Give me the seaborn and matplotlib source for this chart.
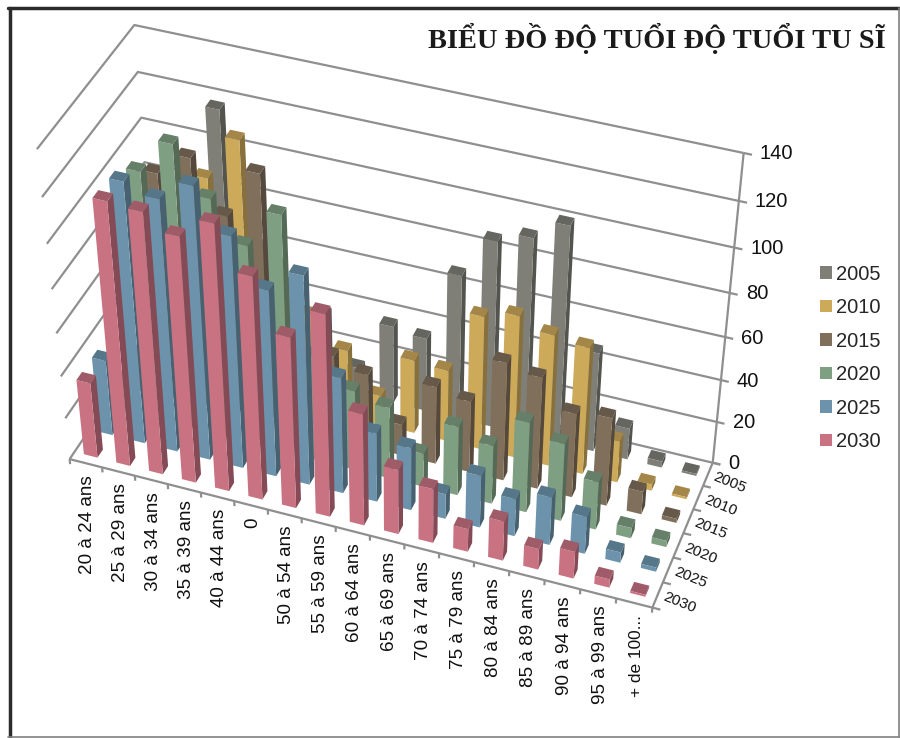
import numpy as np
import seaborn as sns
import matplotlib
matplotlib.use('Agg')
import matplotlib.pyplot as plt
from matplotlib.lines import Line2D
from matplotlib.patches import Patch
from mpl_toolkits.mplot3d.art3d import Line3DCollection

ages = ['20 à 24 ans', '25 à 29 ans', '30 à 34 ans', '35 à 39 ans', '40 à 44 ans', '0',
        '50 à 54 ans', '55 à 59 ans', '60 à 64 ans', '65 à 69 ans', '70 à 74 ans', '75 à 79 ans',
        '80 à 84 ans', '85 à 89 ans', '90 à 94 ans', '95 à 99 ans', '+ de 100...']
years = ['2005', '2010', '2015', '2020', '2025', '2030']
z_ticks = [0, 20, 40, 60, 80, 100, 120, 140]

v2005 = [8, 40, 118, 60, 45, 35, 13, 37, 35, 68, 87, 92, 101, 47, 15, 3, 1]
v2010 = [10, 45, 97, 117, 65, 45, 32, 14, 35, 34, 63, 67, 62, 60, 20, 3, 1]
v2015 = [18, 105, 115, 93, 115, 45, 40, 35, 15, 37, 34, 56, 53, 40, 42, 11, 2]
v2020 = [15, 115, 130, 110, 93, 110, 50, 38, 34, 16, 33, 28, 43, 37, 23, 5, 3]
v2025 = [36, 120, 116, 125, 107, 87, 97, 55, 33, 30, 12, 25, 18, 23, 18, 5, 2]
v2030 = [36, 121, 120, 113, 122, 103, 80, 94, 53, 31, 26, 11, 19, 10, 13, 4, 1]
series = [v2005, v2010, v2015, v2020, v2025, v2030]

colors = sns.color_palette(['#7f7f78', '#cda95a', '#7f6f5b', '#7f9f83', '#6c93ab', '#c87282'])

sns.set_theme(style='white')
plt.rcParams['font.family'] = ['Liberation Sans', 'DejaVu Sans']

W, H_PX = 900, 738
n_x, n_y, z_max = len(ages), len(years), 140

# box corners and gridline ends as seen in the picture, the camera is fitted on them
world_pts = [(0, 0, 0), (0, 0, 140), (0, 0, 120), (0, 0, 100), (0, 0, 80), (0, 0, 60), (0, 0, 40), (0, 0, 20),
             (17, 0, 0), (17, 6, 0), (17, 6, 20), (17, 6, 60), (17, 6, 100), (17, 6, 140),
             (0, 6, 140), (0, 6, 120), (0, 6, 100)]
pixel_pts = [(70, 460), (37, 149), (42, 197), (47, 244), (52, 289), (56, 333), (61, 376), (65, 418),
             (652, 608), (713, 462), (716, 422), (726, 337), (735, 248), (743, 153),
             (134, 25), (138, 72), (141, 118)]


def fit_camera():
    rows = []
    for (x, y, z), (u, v) in zip(world_pts, pixel_pts):
        p = [x / n_x, y / n_y, z / z_max, 1]
        rows.append(p + [0, 0, 0, 0] + [-u * c for c in p])
        rows.append([0, 0, 0, 0] + p + [-v * c for c in p])
    cam = np.linalg.svd(np.array(rows))[2][-1].reshape(3, 4)
    cam = cam @ np.diag([1 / n_x, 1 / n_y, 1 / z_max, 1])
    if cam[2] @ np.array([n_x / 2, n_y / 2, z_max / 2, 1]) < 0:
        cam = -cam
    return cam


cam = fit_camera()


def to_px(x, y, z):
    u, v, w = cam @ np.array([x, y, z, 1])
    return u / w, v / w


fig = plt.figure(figsize=(W / 100, H_PX / 100), dpi=100)
# square axes as wide as the figure, mplot3d forces a square box
h = W / H_PX
ax = fig.add_axes([0, (1 - h) / 2, 1, h], projection='3d', computed_zorder=False)
ax.set_axis_off()
ax.patch.set_visible(False)


def fitted_proj():
    to_data = ax.transData.inverted().get_affine().get_matrix()
    flip = np.array([[1, 0, 0], [0, -1, H_PX], [0, 0, 1]])
    top = to_data @ flip @ cam
    depth = top[2] - np.array([0, 0, 0, 1e-3])
    return np.vstack([top[0], top[1], depth, top[2]])


ax.get_proj = fitted_proj

grid_c = '#8f8f8f'
segs = []
for z in z_ticks:
    segs.append([(0, 0, z), (0, n_y, z), (n_x, n_y, z)])
    segs.append([(n_x, n_y, z), (n_x + 0.22, n_y, z)])
segs.append([(n_x, n_y, 0), (n_x, n_y, z_max)])
segs.append([(0, 0, 0), (n_x, 0, 0), (n_x, n_y, 0)])
for i in range(n_x + 1):
    segs.append([(i, 0, 0), (i, 0, -2.5)])
for r in range(n_y + 1):
    segs.append([(n_x, r, 0), (n_x + 0.22, r, 0)])
ax.add_collection3d(Line3DCollection(segs, colors=grid_c, linewidths=1.6, zorder=1), autolim=False)

bar_w, bar_d = 0.42, 0.36
clear = (0, 0, 0, 0)
for s, (vals, c) in enumerate(zip(series, colors)):
    row = n_y - 1 - s
    front = np.array(c)
    top_c, side_c = front * 0.8, front * 0.66
    # -z, +z, -y, +y, -x, +x
    faces = [clear, top_c, front, clear, clear, side_c]
    for i, v in enumerate(vals):
        ax.bar3d(i + (1 - bar_w) / 2, row + (1 - bar_d) / 2, 0, bar_w, bar_d, v, color=faces,
                 shade=False, linewidth=0, zorder=10 + s * 100 + i)
ax.set_xlim(0, n_x)
ax.set_ylim(0, n_y)
ax.set_zlim(0, z_max)


def put_text(px, py, s, **kw):
    fig.text(px / W, 1 - py / H_PX, s, **kw)


for i, lab in enumerate(ages):
    px, py = to_px(i + 0.5, 0, 0)
    size = 12.4 if lab.endswith('...') else 13.6
    put_text(px + 2, py + 12, lab, rotation=90, ha='center', va='top', fontsize=size, color='#111111')
for s, lab in enumerate(years):
    px, py = to_px(n_x, n_y - 1 - s + 0.5, 0)
    put_text(px + 22, py + 8, lab, rotation=-22, rotation_mode='anchor', ha='center', va='center',
             fontsize=11, color='#111111')
for z in z_ticks:
    px, py = to_px(n_x, n_y, z)
    put_text(px + 16, py + 1, str(z), ha='left', va='center', fontsize=14.5, color='#111111')

handles = [Patch(facecolor=c, edgecolor='none', label=y) for c, y in zip(colors, years)]
fig.legend(handles=handles, loc='center left', bbox_to_anchor=(802 / W, 1 - 358 / H_PX), frameon=False,
           fontsize=14.5, handlelength=0.58, handleheight=0.58, labelspacing=0.72, handletextpad=0.2)

put_text(886, 38, 'BIỂU ĐỒ ĐỘ TUỔI ĐỘ TUỔI TU SĨ', ha='right', va='center', fontsize=20.4,
         fontweight='bold', family=['Liberation Serif', 'DejaVu Serif'], color='#1a1a1a')

frame = '#2b2b2b'
edge = '#808080'
fig.add_artist(Line2D([9.5 / W, 9.5 / W], [1 - 8 / H_PX, 1 - 737 / H_PX], color=frame, lw=2.5))
fig.add_artist(Line2D([8 / W, 1], [1 - 8 / H_PX, 1 - 8 / H_PX], color=frame, lw=2.5))
fig.add_artist(Line2D([8 / W, 1], [1 - 737 / H_PX, 1 - 737 / H_PX], color=edge, lw=1.2))
fig.add_artist(Line2D([898.5 / W, 898.5 / W], [1 - 8 / H_PX, 1 - 737 / H_PX], color=edge, lw=1.2))

fig.savefig('out.png', dpi=100)
